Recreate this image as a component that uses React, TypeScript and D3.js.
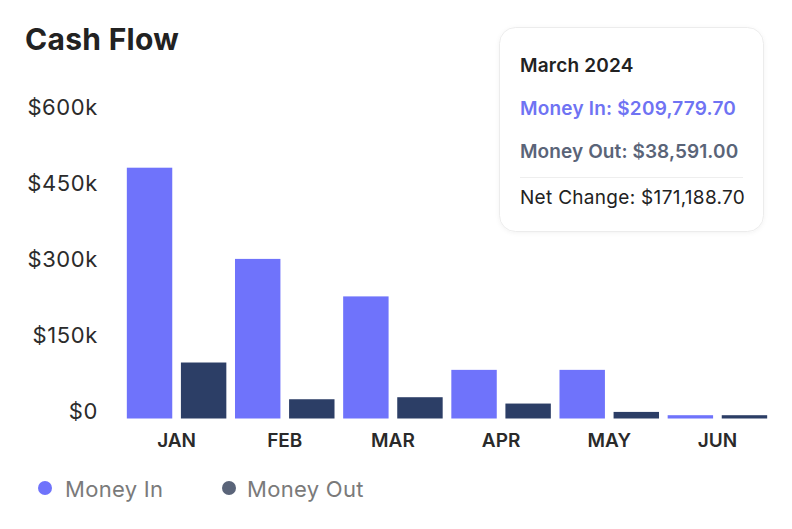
import React from "react";
import * as d3 from "d3";

const months = ["JAN", "FEB", "MAR", "APR", "MAY", "JUN"];
const moneyIn = [495000, 315000, 241000, 96000, 96000, 6500];
const moneyOut = [110500, 38000, 42000, 29500, 13000, 6500];
const yTicks = [0, 150000, 300000, 450000, 600000];
const seriesKeys = ["in", "out"];
const legendLabels = ["Money In", "Money Out"];
const tooltipTitle = "March 2024";
const tooltipIn = "Money In: $209,779.70";
const tooltipOut = "Money Out: $38,591.00";
const tooltipNet = "Net Change: $171,188.70";

const W = 792;
const H = 529;
const FONT = "Inter, 'Noto Sans', sans-serif";
const IN_COLOR = "#6f73fb";
const OUT_COLOR = "#2c3e66";
const OUT_LEGEND = "#5a6479";

export default function App() {
  const x = d3.scaleBand<string>().domain(months).range([122.5, 771.5]).paddingInner(0).paddingOuter(0);
  const xi = d3
    .scaleBand<string>()
    .domain(seriesKeys)
    .range([0, x.bandwidth()])
    .paddingInner(0.16)
    .paddingOuter(0.08);
  const y = d3.scaleLinear().domain([0, 600000]).range([418.5, 114.5]);
  const fmt = (v: number) => (v === 0 ? "$0" : `$${d3.format("d")(v / 1000)}k`);

  const data = months.map((m, i) => ({ m, in: moneyIn[i], out: moneyOut[i] }));

  return (
    <svg
      width={W}
      height={H}
      style={{ position: "absolute", left: 0, top: 0, background: "#fff" }}
      fontFamily={FONT}
    >
      <defs>
        <filter id="sh" x="-10%" y="-10%" width="120%" height="130%">
          <feDropShadow dx="0" dy="1" stdDeviation="2" floodColor="#000" floodOpacity="0.05" />
        </filter>
      </defs>
      <text x={25} y={50} fontSize={30} fontWeight={700} fill="#222" letterSpacing={0.3}>
        Cash Flow
      </text>

      {yTicks.map((t) => (
        <text key={t} x={98} y={y(t)} textAnchor="end" fontSize={22} fill="#2b2b2b" letterSpacing={0.6}>
          {fmt(t)}
        </text>
      ))}

      {data.map((d) => (
        <g key={d.m} transform={`translate(${x(d.m)},0)`}>
          <rect x={xi("in")} y={y(d.in)} width={xi.bandwidth()} height={y(0) - y(d.in)} fill={IN_COLOR} />
          <rect x={xi("out")} y={y(d.out)} width={xi.bandwidth()} height={y(0) - y(d.out)} fill={OUT_COLOR} />
          <text
            x={x.bandwidth() / 2}
            y={447}
            textAnchor="middle"
            fontSize={19}
            fontWeight={600}
            fill="#2a2a2a"
          >
            {d.m}
          </text>
        </g>
      ))}

      {legendLabels.map((l, i) => (
        <g key={l} transform={`translate(${i === 0 ? 45 : 229},0)`}>
          <circle cx={0} cy={488} r={7} fill={i === 0 ? IN_COLOR : OUT_LEGEND} />
          <text x={i === 0 ? 20 : 18} y={497} fontSize={22} fill="#7a7a7a" letterSpacing={0.3}>
            {l}
          </text>
        </g>
      ))}

      <g>
        <rect
          x={499.5}
          y={27.5}
          width={264}
          height={204}
          rx={16}
          fill="#fff"
          stroke="#ececec"
          filter="url(#sh)"
        />
        <text x={520} y={72} fontSize={19} fontWeight={600} fill="#222" letterSpacing={0.2}>
          {tooltipTitle}
        </text>
        <text x={520} y={115} fontSize={19} fontWeight={600} fill="#6f73f3" letterSpacing={0.2}>
          {tooltipIn}
        </text>
        <text x={520} y={158} fontSize={19} fontWeight={600} fill="#5a6478" letterSpacing={0.1}>
          {tooltipOut}
        </text>
        <line x1={520} x2={743} y1={177.5} y2={177.5} stroke="#eeeeee" />
        <text x={520} y={204} fontSize={19} fill="#222" letterSpacing={0.3}>
          {tooltipNet}
        </text>
      </g>
    </svg>
  );
}
